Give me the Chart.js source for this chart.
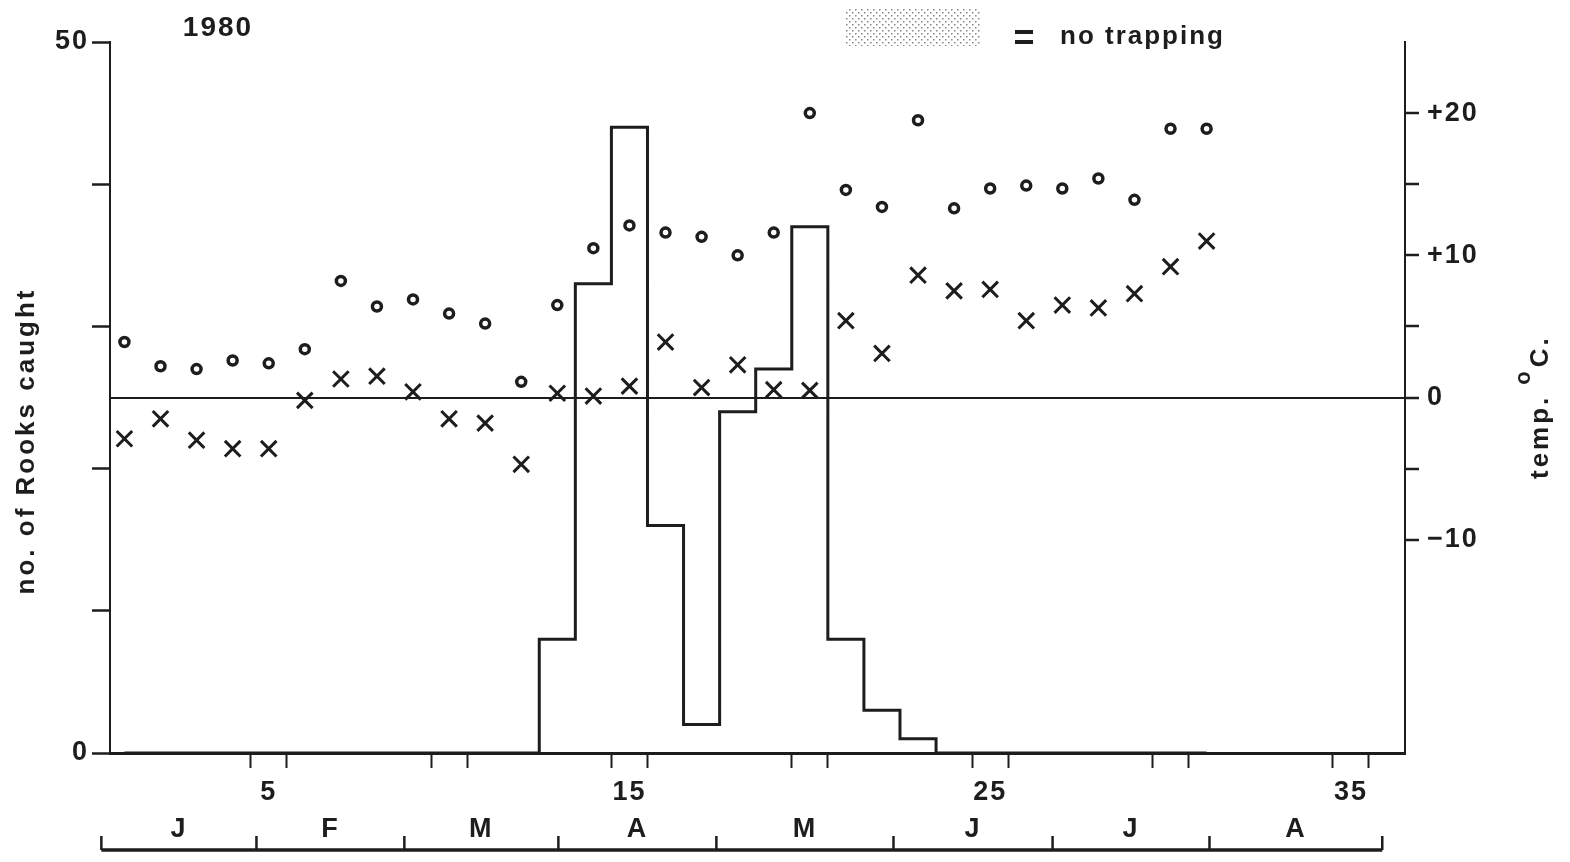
<!DOCTYPE html>
<html>
<head>
<meta charset="utf-8">
<title>Rooks caught 1980</title>
<script src="https://cdn.jsdelivr.net/npm/chart.js@4.4.0/dist/chart.umd.min.js"></script>
<style>
  html, body { margin: 0; padding: 0; background: #fff; }
  #wrap { width: 1570px; height: 862px; position: relative; }
</style>
</head>
<body>
<div id="wrap"><canvas id="chart"></canvas></div>
<script>
// weekly data for 1980, week 1 = first week of January
var weeks = [1,2,3,4,5,6,7,8,9,10,11,12,13,14,15,16,17,18,19,20,21,22,23,24,25,26,27,28,29,30,31];
var rooksCaught = [0,0,0,0,0,0,0,0,0,0,0,0,8,33,44,16,2,24,27,37,8,3,1,0,0,0,0,0,0,0,0];
// o = weekly max temp, x = weekly min temp (deg C)
var tempMax = [3.9,2.2,2.0,2.6,2.4,3.4,8.2,6.4,6.9,5.9,5.2,1.1,6.5,10.5,12.1,11.6,11.3,10.0,11.6,20.0,14.6,13.4,19.5,13.3,14.7,14.9,14.7,15.4,13.9,18.9,18.9];
var tempMin = [-2.9,-1.5,-3.0,-3.6,-3.6,-0.2,1.3,1.5,0.4,-1.5,-1.8,-4.7,0.3,0.1,0.8,3.9,0.7,2.3,0.55,0.5,5.4,3.1,8.6,7.5,7.6,5.4,6.5,6.3,7.3,9.2,11.0];

var weekLabels = [5, 15, 25, 35];
var weekTickGroups = [5, 10, 15, 20, 25, 30, 35];
var months = ['J', 'F', 'M', 'A', 'M', 'J', 'J', 'A'];
var monthEdges = [0.36, 4.66, 8.76, 13.03, 17.41, 22.32, 26.73, 31.08, 35.87]; // in weeks

var ink = '#1d1d1d';
var fam = '"Liberation Sans", Arial, sans-serif';
var numFont = { family: fam, size: 27, weight: 'bold' };

// tick marks sit either side of every 5th week, labels on the week itself
var xTickValues = [];
weekTickGroups.forEach(function(k) {
    xTickValues.push(k - 0.5);
    if (weekLabels.indexOf(k) >= 0) xTickValues.push(k);
    xTickValues.push(k + 0.5);
});

function pts(vals) {
    return weeks.map(function(w, i) { return { x: w, y: vals[i] }; });
}

var extras = {
    id: 'extras',
    beforeDraw: function(chart) {
        chart.ctx.letterSpacing = '2px';
    },
    afterDraw: function(chart) {
        var ctx = chart.ctx;
        var xs = chart.scales.x;
        ctx.save();
        ctx.fillStyle = ink;
        ctx.strokeStyle = ink;

        // year
        ctx.font = 'bold 28px ' + fam;
        ctx.textAlign = 'center';
        ctx.textBaseline = 'middle';
        ctx.fillText('1980', 218, 28);

        // legend: stippled box = no trapping
        var tile = document.createElement('canvas');
        tile.width = 6; tile.height = 6;
        var t = tile.getContext('2d');
        t.fillStyle = '#858585';
        t.fillRect(0, 0, 1.5, 1.5);
        t.fillRect(3, 3, 1.5, 1.5);
        ctx.fillStyle = ctx.createPattern(tile, 'repeat');
        ctx.fillRect(845, 9, 136, 37);
        ctx.fillStyle = ink;
        ctx.font = 'bold 36px ' + fam;
        ctx.fillText('=', 1025, 40);
        ctx.textAlign = 'left';
        ctx.font = 'bold 26px ' + fam;
        ctx.fillText('no trapping', 1060, 37);

        // left axis title
        ctx.save();
        ctx.letterSpacing = '3px';
        ctx.translate(27, 441);
        ctx.rotate(-Math.PI / 2);
        ctx.textAlign = 'center';
        ctx.font = 'bold 26px ' + fam;
        ctx.fillText('no. of Rooks caught', 0, 0);
        ctx.restore();

        // right axis title, superscript o before C
        ctx.save();
        ctx.letterSpacing = '3px';
        ctx.translate(1541, 407);
        ctx.rotate(-Math.PI / 2);
        ctx.textAlign = 'left';
        ctx.font = 'bold 26px ' + fam;
        var x0 = -72;
        ctx.fillText('temp.', x0, 0);
        x0 += ctx.measureText('temp.').width + 10;
        ctx.font = 'bold 22px ' + fam;
        ctx.fillText('o', x0, -17);
        x0 += ctx.measureText('o').width + 1;
        ctx.font = 'bold 26px ' + fam;
        ctx.fillText('C.', x0, 0);
        ctx.restore();

        // month bar under the week axis
        var yBar = 850;
        var left = xs.getPixelForValue(monthEdges[0]);
        var right = xs.getPixelForValue(monthEdges[monthEdges.length - 1]);
        ctx.lineWidth = 3.5;
        ctx.beginPath();
        ctx.moveTo(left, yBar);
        ctx.lineTo(right, yBar);
        ctx.stroke();
        ctx.lineWidth = 2.5;
        monthEdges.forEach(function(e) {
            var px = xs.getPixelForValue(e);
            ctx.beginPath();
            ctx.moveTo(px, yBar);
            ctx.lineTo(px, yBar - 14);
            ctx.stroke();
        });
        ctx.textAlign = 'center';
        ctx.font = 'bold 27px ' + fam;
        months.forEach(function(m, i) {
            var mid = (monthEdges[i] + monthEdges[i + 1]) / 2;
            ctx.fillText(m, xs.getPixelForValue(mid), 830);
        });
        ctx.restore();
    }
};

new Chart(document.getElementById('chart'), {
    type: 'line',
    data: {
        datasets: [{
            label: 'temp max',
            type: 'scatter',
            data: pts(tempMax),
            yAxisID: 'y2',
            pointStyle: 'circle',
            pointRadius: 4.5,
            borderWidth: 3.5,
            pointBorderWidth: 3.5,
            backgroundColor: '#fff',
            pointBackgroundColor: '#fff',
            borderColor: ink,
            pointBorderColor: ink,
            showLine: false
        }, {
            label: 'temp min',
            type: 'scatter',
            data: pts(tempMin),
            yAxisID: 'y2',
            pointStyle: 'crossRot',
            pointRadius: 11,
            borderWidth: 3,
            pointBorderWidth: 3,
            borderColor: ink,
            pointBorderColor: ink,
            showLine: false
        }, {
            label: 'Rooks caught',
            type: 'line',
            data: pts(rooksCaught),
            yAxisID: 'y',
            stepped: 'middle',
            borderColor: ink,
            borderWidth: 3,
            pointRadius: 0,
            fill: false
        }]
    },
    options: {
        responsive: true,
        maintainAspectRatio: false,
        animation: false,
        events: [],
        layout: { padding: { top: 42, left: 0, right: 0, bottom: 0 } },
        plugins: {
            legend: { display: false },
            tooltip: { enabled: false }
        },
        scales: {
            x: {
                type: 'linear',
                min: 0.6,
                max: 36.5,
                afterBuildTicks: function(s) {
                    s.ticks = xTickValues.map(function(v) { return { value: v }; });
                },
                afterFit: function(s) { s.height = 109; },
                grid: {
                    drawOnChartArea: false,
                    tickLength: 15,
                    tickWidth: 2,
                    tickColor: function(c) {
                        return Number.isInteger(c.tick.value) ? 'rgba(0,0,0,0)' : ink;
                    }
                },
                border: { color: ink, width: 3 },
                ticks: {
                    autoSkip: false,
                    maxRotation: 0,
                    padding: 8,
                    color: ink,
                    font: numFont,
                    callback: function(v) { return weekLabels.indexOf(v) >= 0 ? String(v) : ''; }
                }
            },
            y: {
                position: 'left',
                min: 0,
                max: 50,
                afterFit: function(s) { s.width = 110; },
                grid: { drawOnChartArea: false, tickLength: 18, tickWidth: 2.5, tickColor: ink },
                border: { color: ink, width: 2 },
                ticks: {
                    stepSize: 10,
                    padding: 3,
                    color: ink,
                    font: numFont,
                    callback: function(v) { return (v === 0 || v === 50) ? String(v) : ''; }
                }
            },
            y2: {
                position: 'right',
                min: -25,
                max: 25,
                afterBuildTicks: function(s) {
                    s.ticks = s.ticks.filter(function(t) { return t.value >= -10 && t.value <= 20; });
                },
                afterFit: function(s) { s.width = 165; },
                grid: {
                    drawOnChartArea: true,
                    tickLength: 14,
                    tickWidth: 2.5,
                    tickColor: ink,
                    lineWidth: 2,
                    color: function(c) { return c.tick && c.tick.value === 0 ? ink : 'rgba(0,0,0,0)'; }
                },
                border: { color: ink, width: 2 },
                ticks: {
                    stepSize: 5,
                    padding: 8,
                    color: ink,
                    font: numFont,
                    callback: function(v) {
                        if (v % 10 !== 0) return '';
                        if (v > 0) return '+' + v;
                        if (v < 0) return '\u2212' + Math.abs(v);
                        return '0';
                    }
                }
            }
        }
    },
    plugins: [extras]
});
</script>
</body>
</html>
